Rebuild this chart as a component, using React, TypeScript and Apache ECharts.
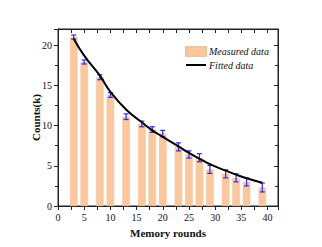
import React, { useEffect, useRef } from "react";
import * as echarts from "echarts";

const rounds = [3, 5, 8, 10, 13, 16, 18, 20, 23, 25, 27, 29, 32, 34, 36, 39];
const measured = [21.0, 17.9, 16.0, 13.8, 11.1, 10.2, 9.5, 9.0, 7.35, 6.4, 6.0, 4.55, 4.0, 3.5, 3.0, 2.3];
const errors = [0.25, 0.25, 0.3, 0.3, 0.35, 0.35, 0.35, 0.4, 0.5, 0.45, 0.5, 0.5, 0.5, 0.5, 0.5, 0.55];
const fittedX = [3, 5, 8, 10, 13, 16, 18, 20, 23, 25, 27, 29, 32, 34, 36, 39];
const fittedY = [20.8, 18.7, 16.2, 14.2, 12.0, 10.4, 9.4, 8.6, 7.4, 6.6, 5.9, 5.2, 4.4, 3.9, 3.45, 2.9];

const FONT = "'Liberation Serif', 'Times New Roman', serif";

export default function App() {
  const ref = useRef<HTMLDivElement>(null);
  useEffect(() => {
    if (!ref.current) return;
    const chart = echarts.init(ref.current, null, { renderer: "svg" });
    const axisLine = { show: true, onZero: false, lineStyle: { color: "#222", width: 1 } };
    const hideOdd = (v: number) => (v % 5 === 0 ? String(v) : "");
    chart.setOption({
      animation: false,
      backgroundColor: "#fff",
      grid: { left: 58, top: 29, right: 44, bottom: 41, containLabel: false, show: true, borderColor: "#222", borderWidth: 1, backgroundColor: "transparent" },
      legend: {
        orient: "vertical",
        left: 185,
        top: 46,
        padding: 0,
        itemWidth: 20,
        itemHeight: 9,
        itemGap: 3,
        textStyle: { fontFamily: FONT, fontStyle: "italic", fontSize: 10, color: "#111", padding: [0, 0, 0, -2] },
        data: [
          { name: "Measured data", icon: "rect" },
          { name: "Fitted data", itemStyle: { color: "rgba(0,0,0,0)", borderWidth: 0, opacity: 0 } },
        ],
      },
      xAxis: [
        {
          type: "value",
          min: 0,
          max: 42,
          interval: 5,
          position: "bottom",
          axisLine,
          splitLine: { show: false },
          axisTick: { show: true, inside: false, length: 4, lineStyle: { color: "#222" } },
          minorTick: { show: true, splitNumber: 2, length: 4, lineStyle: { color: "#222" } },
          axisLabel: { formatter: hideOdd, fontFamily: FONT, fontSize: 10, color: "#111", margin: 6 },
          name: "Memory rounds",
          nameLocation: "middle",
          nameGap: 21,
          nameMoveOverlap: false,
          nameTextStyle: { fontFamily: FONT, fontWeight: "bold", fontSize: 11, color: "#111" },
        },
        {
          type: "value",
          min: 0,
          max: 42,
          interval: 5,
          position: "top",
          axisLine,
          splitLine: { show: false },
          axisTick: { show: true, inside: true, length: 4, lineStyle: { color: "#222" } },
          minorTick: { show: true, splitNumber: 2, length: 4, lineStyle: { color: "#222" } },
          axisLabel: { show: false },
        },
      ],
      yAxis: [
        {
          type: "value",
          min: 0,
          max: 22,
          interval: 5,
          position: "left",
          axisLine,
          splitLine: { show: false },
          axisTick: { show: true, inside: false, length: 4, lineStyle: { color: "#222" } },
          minorTick: { show: true, splitNumber: 2, length: 3, lineStyle: { color: "#222" } },
          axisLabel: { formatter: hideOdd, fontFamily: FONT, fontSize: 10, color: "#111", margin: 6 },
          name: "Counts(k)",
          nameLocation: "middle",
          nameGap: 17,
          nameRotate: 90,
          nameMoveOverlap: false,
          nameTextStyle: { fontFamily: FONT, fontWeight: "bold", fontSize: 11, color: "#111" },
        },
        {
          type: "value",
          min: 0,
          max: 22,
          interval: 5,
          position: "right",
          axisLine,
          splitLine: { show: false },
          axisTick: { show: true, inside: true, length: 4, lineStyle: { color: "#222" } },
          minorTick: { show: true, splitNumber: 2, length: 3, lineStyle: { color: "#222" } },
          axisLabel: { show: false },
        },
      ],
      series: [
        {
          name: "Measured data",
          type: "bar",
          xAxisIndex: 0,
          yAxisIndex: 0,
          barWidth: 7.5,
          data: rounds.map((x, i) => [x, measured[i]]),
          itemStyle: { color: "#FDC79B", borderColor: "#EFC3A0", borderWidth: 0.6 },
        },
        {
          name: "errors",
          type: "custom",
          xAxisIndex: 0,
          yAxisIndex: 0,
          data: rounds.map((x, i) => [x, measured[i] - errors[i], measured[i] + errors[i]]),
          renderItem: (params: any, api: any) => {
            const x = api.value(0);
            const lo = api.coord([x, api.value(1)]);
            const hi = api.coord([x, api.value(2)]);
            const cw = 2.5;
            const style = { stroke: "#2A2AF5", lineWidth: 1.2 };
            return {
              type: "group",
              children: [
                { type: "line", shape: { x1: lo[0], y1: lo[1], x2: hi[0], y2: hi[1] }, style },
                { type: "line", shape: { x1: lo[0] - cw, y1: lo[1], x2: lo[0] + cw, y2: lo[1] }, style },
                { type: "line", shape: { x1: hi[0] - cw, y1: hi[1], x2: hi[0] + cw, y2: hi[1] }, style },
              ],
            };
          },
          z: 3,
        },
        {
          name: "Fitted data",
          type: "line",
          xAxisIndex: 0,
          yAxisIndex: 0,
          smooth: true,
          symbol: "none",
          showSymbol: false,
          data: fittedX.map((x, i) => [x, fittedY[i]]),
          lineStyle: { color: "#000", width: 2 },
          itemStyle: { color: "#000" },
          z: 4,
        },
        {
          name: "frame",
          type: "line",
          xAxisIndex: 1,
          yAxisIndex: 1,
          data: [],
          symbol: "none",
          silent: true,
        },
      ],
    });
    return () => chart.dispose();
  }, []);
  return <div ref={ref} style={{ width: 322, height: 247, margin: -8 }} />;
}
